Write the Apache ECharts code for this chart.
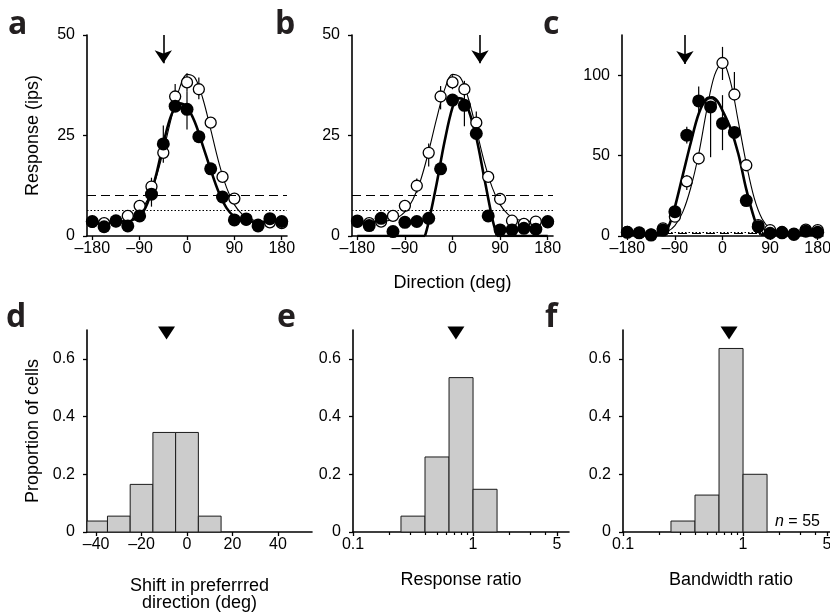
<!DOCTYPE html>
<html>
<head>
<meta charset="utf-8">
<script src="https://cdn.jsdelivr.net/npm/echarts@6/dist/echarts.min.js"></script>
<style>
  html, body { margin: 0; padding: 0; background: #fff; }
  #main { width: 830px; height: 614px; }
</style>
</head>
<body>
<div id="main"></div>
<script>
// measured directions (deg)
var dirs = [-180, -157.5, -135, -112.5, -90, -67.5, -45, -22.5, 0, 22.5, 45, 67.5, 90, 112.5, 135, 157.5, 180];
// panel a / b / c responses (ips), open = control, filled = test
var aOpen   = [3.5, 3.2, 3.6, 5, 7.5, 12.3, 20.7, 34.7, 38.2, 36.5, 28.2, 14.7, 9.3, 4, 2.8, 3.4, 3.2];
var aFilled = [3.6, 2.3, 3.8, 2.5, 5, 10.4, 22.9, 32.3, 31.5, 24.7, 16.7, 9.7, 4, 4.25, 2.5, 4.3, 3.6];
var bOpen   = [3.5, 3.2, 3.6, 5, 7.5, 12.5, 20.7, 34.7, 38.2, 36.5, 28.2, 14.7, 9.2, 3.8, 3, 3.6, 3.4];
var bFilled = [3.75, 2.6, 4.4, 1.1, 3.4, 3.6, 4.4, 16.7, 33.8, 32.5, 25.5, 5, 1.5, 1.5, 1.9, 1.7, 3.6];
var cOpen   = [2.5, 2, 1, 4.8, 12, 34, 48.2, 82, 107.6, 88, 44, 6.8, 3.7, 2.5, 1.5, 4, 3.7];
var cFilled = [2.3, 2, 0.6, 3.7, 15.1, 62.7, 84, 80.3, 70, 64.4, 22, 5.8, 1.7, 2, 1, 3, 2.3];

// error bars [direction, low, high]
var aErr = [[-67.5, 7.3, 14.5], [-45, 18.2, 27.5], [-22.5, 32, 37.8], [0, 26.5, 36], [0, 36, 40.5], [22.5, 34, 39.4]];
var bErr = [[-67.5, 10.7, 14.3], [-45, 17.3, 23], [-22.5, 31.5, 37.3], [0, 36.5, 40], [22.5, 27.3, 38.6], [45, 25.7, 31]];
var cErr = [[-67.5, 28.6, 38], [-67.5, 57.5, 68], [-45, 76, 93], [-22.5, 49, 86.5], [0, 97, 117.6], [0, 53.4, 87.6], [22.5, 84.5, 102]];

// fitted curves
var fitX    = [-180, -165, -150, -135, -120, -105, -90, -75, -60, -45, -30, -15, 0, 15, 30, 45, 60, 75, 90, 105, 120, 135, 150, 165, 180];
var ctrlFit = [3.5, 3.5, 3.5, 3.6, 3.85, 4.5, 6.0, 9.0, 14.0, 21.1, 29.2, 36.4, 40.2, 39.4, 34.2, 26.5, 18.5, 12.1, 7.8, 5.4, 4.2, 3.75, 3.6, 3.5, 3.5];
var aFit    = [3.5, 3.5, 3.5, 3.5, 3.6, 4.0, 4.8, 8.2, 14.5, 22.9, 30, 33, 32, 28.3, 22.5, 16.5, 11, 7, 4.8, 3.9, 3.6, 3.5, 3.5, 3.5, 3.5];
var bFitX   = [-52, -45, -30, -15, 0, 10, 20, 30, 45, 60, 75, 84];
var bFit    = [0, 3.5, 13, 23.5, 32, 34.3, 34, 31.5, 24.5, 14.5, 4.5, 0];
var bFitBase = [[-180, 0], [-52, 0], null, [84, 0], [180, 0]];
var cCtrlFit = [1, 1, 1, 1.1, 1.4, 2.6, 6.5, 15, 30, 51, 78, 100, 108, 96, 71, 45, 23.5, 10.5, 4.4, 2, 1.2, 1, 1, 1, 1];
var cFitX   = [-110, -100, -90, -75, -60, -45, -30, -20, -10, 0, 15, 30, 45, 60, 72];
var cFit    = [0.8, 7.5, 18, 38, 58, 76, 85.5, 86.3, 84, 78, 67, 51, 29, 11, 0.8];
var cFitBase = [[-180, 0.8], [-110, 0.8], null, [72, 0.8], [180, 0.8]];

// reference levels (dashed / dotted) and arrow directions
var abDashed = 10.1, abDotted = 6.3, cDashed = 1.6, cDotted = 2.6;
var aArrow = -45, bArrow = 52, cArrow = -71;

// histograms
var shiftEdges = [-45, -35, -25, -15, -5, 5, 15];
var shiftProp  = [0.038, 0.055, 0.165, 0.345, 0.345, 0.055];
var ratioEdges = [0.251, 0.398, 0.631, 1, 1.585];
var respProp   = [0.055, 0.26, 0.535, 0.148];
var bwProp     = [0.038, 0.128, 0.636, 0.2];
var dMean = -9, eMean = 0.72, fMean = 0.765, meanY = 0.69;

var dirTicks = [-180, -90, 0, 90, 180];
var shiftTicks = [-40, -20, 0, 20, 40];
var ratioTicks = [0.1, 1, 5];
var ratioMinor = [0.2, 0.3, 0.4, 0.5, 0.6, 0.7, 0.8, 0.9, 2, 3, 4];
var respTicks = [0, 25, 50];
var cTicks = [0, 50, 100];
var propTicks = [0, 0.2, 0.4, 0.6];

var FONT = '"Liberation Sans", Arial, sans-serif';
var INK = '#000';

function fmtNum(v) {
    v = +(+v).toPrecision(3);
    return v < 0 ? '\u2013' + (-v) : String(v);
}

function zip(xs, ys) { return xs.map(function (x, i) { return [x, ys[i]]; }); }

function xAxisOf(i, type, min, max, ticks, extra) {
    var ax = {
        type: type, gridIndex: i, min: min, max: max, position: 'bottom',
        axisLine: { show: true, onZero: false, lineStyle: { color: INK, width: 1.6 } },
        axisTick: { show: true, customValues: ticks, length: 4, lineStyle: { color: INK, width: 1.3 } },
        axisLabel: { customValues: ticks, color: INK, fontSize: 16, fontFamily: FONT, margin: 5, formatter: fmtNum },
        splitLine: { show: false }, minorTick: { show: false },
        nameLocation: 'middle', nameTextStyle: { color: INK, fontSize: 18, fontFamily: FONT, lineHeight: 17 }
    };
    return Object.assign(ax, extra || {});
}

// second, unlabeled log axis that only carries the short minor ticks
function minorAxisOf(i) {
    return {
        type: 'log', gridIndex: i, min: 0.1, max: 6.3, position: 'bottom',
        axisLine: { show: false, onZero: false },
        axisTick: { show: true, customValues: ratioMinor, length: 3, lineStyle: { color: INK, width: 1.2 } },
        axisLabel: { show: false }, splitLine: { show: false }
    };
}

function yAxisOf(i, max, ticks, extra) {
    var ax = {
        type: 'value', gridIndex: i, min: 0, max: max,
        axisLine: { show: true, onZero: false, lineStyle: { color: INK, width: 1.6 } },
        axisTick: { show: true, customValues: ticks, length: 4, lineStyle: { color: INK, width: 1.3 } },
        axisLabel: { customValues: ticks, color: INK, fontSize: 16, fontFamily: FONT, margin: 12, formatter: fmtNum },
        splitLine: { show: false },
        nameLocation: 'middle', nameGap: 45, nameTextStyle: { color: INK, fontSize: 18, fontFamily: FONT }
    };
    return Object.assign(ax, extra || {});
}

function curve(i, data, width, mark) {
    var s = {
        type: 'line', xAxisIndex: i, yAxisIndex: i, data: data, smooth: 0.35,
        showSymbol: false, symbol: 'none', z: 2, silent: true,
        lineStyle: { color: INK, width: width }
    };
    if (mark) s.markLine = mark;
    return s;
}

function refLines(dashed, dotted) {
    return {
        silent: true, symbol: ['none', 'none'], label: { show: false },
        data: [
            { yAxis: dashed, lineStyle: { color: INK, width: 1.1, type: [9, 5] } },
            { yAxis: dotted, lineStyle: { color: INK, width: 1.2, type: [1.5, 2] } }
        ]
    };
}

function arrow(x, yFrom, yTo) {
    return {
        silent: true, symbol: ['none', 'arrow'], symbolSize: 13, label: { show: false },
        lineStyle: { color: INK, width: 1.6, type: 'solid' },
        data: [[{ coord: [x, yFrom] }, { coord: [x, yTo] }]]
    };
}

function dots(i, ys, filled) {
    return {
        type: 'scatter', xAxisIndex: i, yAxisIndex: i, data: zip(dirs, ys),
        symbol: 'circle', symbolSize: filled ? 13 : 11, z: filled ? 5 : 4, silent: true, clip: false,
        itemStyle: filled ? { color: INK, opacity: 1 } : { color: '#fff', borderColor: INK, borderWidth: 1.3, opacity: 1 }
    };
}

function errBars(i, rows) {
    return {
        type: 'custom', xAxisIndex: i, yAxisIndex: i, data: rows, z: 3, silent: true,
        encode: { x: 0, y: [1, 2] },
        renderItem: function (params, api) {
            var p = api.coord([api.value(0), api.value(1)]);
            var q = api.coord([api.value(0), api.value(2)]);
            return { type: 'line', shape: { x1: p[0], y1: p[1], x2: q[0], y2: q[1] }, style: { stroke: INK, lineWidth: 1.2 } };
        }
    };
}

function hist(i, edges, props) {
    var rows = props.map(function (h, k) { return [edges[k], edges[k + 1], h]; });
    return {
        type: 'custom', xAxisIndex: i, yAxisIndex: i, data: rows, silent: true,
        encode: { x: [0, 1], y: 2 },
        renderItem: function (params, api) {
            var p = api.coord([api.value(0), api.value(2)]);
            var q = api.coord([api.value(1), 0]);
            var cs = params.coordSys;
            var shape = echarts.graphic.clipRectByRect(
                { x: p[0], y: p[1], width: q[0] - p[0], height: q[1] - p[1] },
                { x: cs.x, y: cs.y, width: cs.width, height: cs.height });
            return shape && { type: 'rect', shape: shape, style: { fill: '#cccccc', stroke: '#1a1a1a', lineWidth: 1 } };
        }
    };
}

function meanMark(i, x) {
    return {
        type: 'scatter', xAxisIndex: i, yAxisIndex: i, data: [[x, meanY]], clip: false, silent: true,
        symbol: 'triangle', symbolRotate: 180, symbolSize: [17, 13], z: 5,
        itemStyle: { color: INK, opacity: 1 }
    };
}

function letter(t, x, y) {
    return { type: 'text', x: x, y: y, silent: true,
        style: { text: t, font: 'bold 32px "Open Sans", "DejaVu Sans", sans-serif', fill: '#231f20', verticalAlign: 'middle', textVerticalAlign: 'middle' } };
}

var option = {
    animation: false,
    backgroundColor: '#fff',
    grid: [
        { left: 87, top: 35, width: 200, height: 201, outerBoundsMode: 'none' },
        { left: 352, top: 35, width: 201, height: 201, outerBoundsMode: 'none' },
        { left: 622, top: 35, width: 201, height: 201, outerBoundsMode: 'none' },
        { left: 87, top: 330, width: 225, height: 202, outerBoundsMode: 'none' },
        { left: 353, top: 330, width: 216, height: 202, outerBoundsMode: 'none' },
        { left: 623, top: 330, width: 216, height: 202, outerBoundsMode: 'none' }
    ],
    xAxis: [
        xAxisOf(0, 'value', -190, 190, dirTicks),
        xAxisOf(1, 'value', -190, 190, dirTicks, { name: 'Direction (deg)', nameGap: 39 }),
        xAxisOf(2, 'value', -190, 190, dirTicks),
        xAxisOf(3, 'value', -44, 55, shiftTicks, { name: 'Shift in preferrred\ndirection (deg)', nameGap: 46 }),
        xAxisOf(4, 'log', 0.1, 6.3, ratioTicks, { name: 'Response ratio', nameGap: 40 }),
        xAxisOf(5, 'log', 0.1, 6.3, ratioTicks, { name: 'Bandwidth ratio', nameGap: 40 }),
        minorAxisOf(4),
        minorAxisOf(5)
    ],
    yAxis: [
        yAxisOf(0, 50, respTicks, { name: 'Response (ips)' }),
        yAxisOf(1, 50, respTicks),
        yAxisOf(2, 125, cTicks),
        yAxisOf(3, 0.7, propTicks, { name: 'Proportion of cells' }),
        yAxisOf(4, 0.7, propTicks),
        yAxisOf(5, 0.7, propTicks)
    ],
    series: [
        curve(0, zip(fitX, ctrlFit), 1.1, refLines(abDashed, abDotted)),
        curve(0, zip(fitX, aFit), 2.6, arrow(aArrow, 50, 43)),
        errBars(0, aErr), dots(0, aOpen, false), dots(0, aFilled, true),

        curve(1, zip(fitX, ctrlFit), 1.1, refLines(abDashed, abDotted)),
        curve(1, zip(bFitX, bFit), 2.6, arrow(bArrow, 50, 43)),
        curve(1, bFitBase, 2.6),
        errBars(1, bErr), dots(1, bOpen, false), dots(1, bFilled, true),

        curve(2, zip(fitX, cCtrlFit), 1.1, refLines(cDashed, cDotted)),
        curve(2, zip(cFitX, cFit), 2.6, arrow(cArrow, 125, 107)),
        curve(2, cFitBase, 2.6),
        errBars(2, cErr), dots(2, cOpen, false), dots(2, cFilled, true),

        hist(3, shiftEdges, shiftProp), meanMark(3, dMean),
        hist(4, ratioEdges, respProp), meanMark(4, eMean),
        hist(5, ratioEdges, bwProp), meanMark(5, fMean)
    ],
    graphic: [
        letter('a', 8, 25), letter('b', 275, 25), letter('c', 543, 25),
        letter('d', 6, 318), letter('e', 277, 318), letter('f', 545, 318),
        { type: 'text', x: 775, y: 522, silent: true,
          style: { text: '{i|n} = 55', font: '16px ' + FONT, fill: INK, verticalAlign: 'middle', textVerticalAlign: 'middle',
                   rich: { i: { fontStyle: 'italic', fontSize: 16, fontFamily: FONT } } } }
    ]
};

var chart = echarts.init(document.getElementById('main'));
chart.setOption(option);
</script>
</body>
</html>
